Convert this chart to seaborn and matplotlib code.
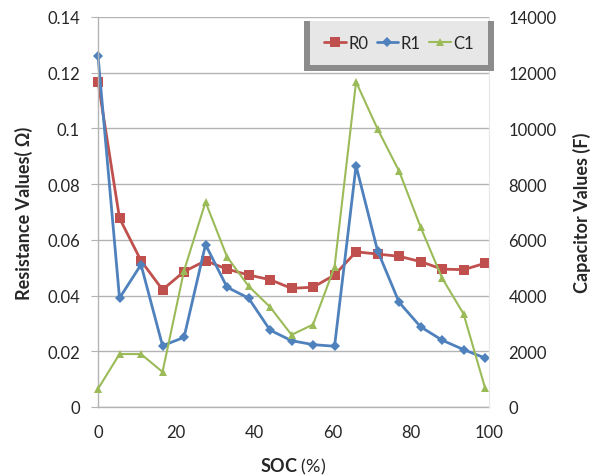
import matplotlib
matplotlib.use("Agg")
import matplotlib.pyplot as plt
from matplotlib.patches import Rectangle
import seaborn as sb
import pandas as pd

soc = [0, 5.5, 11, 16.5, 22, 27.5, 33, 38.5, 44, 49.5, 55, 60.5,
       66, 71.5, 77, 82.5, 88, 93.5, 99]
r0 = [0.1168, 0.0678, 0.0525, 0.0421, 0.0486, 0.0525, 0.0495, 0.0474,
      0.0457, 0.0426, 0.0430, 0.0474, 0.0557, 0.0549, 0.0541, 0.0522,
      0.0495, 0.0493, 0.0516]
r1 = [0.1260, 0.0391, 0.0511, 0.0220, 0.0250, 0.0583, 0.0430, 0.0391,
      0.0276, 0.0238, 0.0224, 0.0218, 0.0866, 0.0561, 0.0376, 0.0288,
      0.0240, 0.0206, 0.0176]
c1 = [650, 1900, 1900, 1260, 4890, 7360, 5390, 4340, 3590, 2590, 2960,
      5030, 11670, 9980, 8470, 6460, 4630, 3340, 680]

x_ticks = [0, 20, 40, 60, 80, 100]
left_ticks = [0, 0.02, 0.04, 0.06, 0.08, 0.1, 0.12, 0.14]
right_ticks = [0, 2000, 4000, 6000, 8000, 10000, 12000, 14000]

RED = "#C0504D"
BLUE = "#4F81BD"
GREEN = "#9BBB59"
GRID = "#B3B3B3"
TXT = "#262626"

sb.set_style("white")
plt.rcParams["font.family"] = ["Lato", "DejaVu Sans"]
plt.rcParams["mathtext.fontset"] = "custom"
plt.rcParams["mathtext.bf"] = "Lato:bold"
plt.rcParams["mathtext.rm"] = "Lato"

df = pd.DataFrame({"SOC": soc, "R0": r0, "R1": r1, "C1": c1})

fig = plt.figure(figsize=(5.94, 4.77), dpi=100)
ax = fig.add_axes([98 / 594, 1 - 408 / 477, 391 / 594, 390 / 477])
ax2 = ax.twinx()

sb.lineplot(data=df, x="SOC", y="R0", ax=ax, color=RED, marker="s",
            markersize=7, linewidth=2, markeredgewidth=0, label="R0",
            legend=False, clip_on=False)
sb.lineplot(data=df, x="SOC", y="R1", ax=ax, color=BLUE, marker="D",
            markersize=5, linewidth=2, markeredgewidth=0, label="R1",
            legend=False, clip_on=False)
sb.lineplot(data=df, x="SOC", y="C1", ax=ax2, color=GREEN, marker="^",
            markersize=6, linewidth=1.5, markeredgewidth=0, label="C1",
            legend=False, clip_on=False)

ax.set_xlim(0, 100)
ax.set_ylim(0, 0.14)
ax2.set_ylim(0, 14000)
ax.set_xticks(x_ticks)
ax.set_yticks(left_ticks)
ax.set_yticklabels(["0", "0.02", "0.04", "0.06", "0.08", "0.1", "0.12",
                    "0.14"])
ax2.set_yticks(right_ticks)

ax.grid(axis="y", color=GRID, linewidth=1)
ax.set_axisbelow(True)
for name, sp in ax.spines.items():
    sp.set_color(GRID)
    sp.set_linewidth(1)
ax.spines["top"].set_visible(False)
ax.spines["right"].set_visible(False)
for name, sp in ax2.spines.items():
    sp.set_visible(False)
ax2.spines["right"].set_visible(True)
ax2.spines["right"].set_color("#E6E6E6")

ax.tick_params(axis="both", direction="out", length=5, color=GRID,
               labelsize=12, labelcolor=TXT, pad=7)
ax.tick_params(axis="y", pad=8)
ax2.tick_params(axis="y", length=0, labelsize=12, labelcolor=TXT, pad=14)

ax.set_xlabel(r"$\bf{SOC}$ (%)", fontsize=13, color=TXT, labelpad=12)
ax.set_ylabel("Resistance Values( \u03a9)", fontsize=13, fontweight="bold",
              color=TXT, labelpad=10)
ax2.set_ylabel("Capacitor Values (F)", fontsize=13, fontweight="bold",
               color=TXT, labelpad=12)

handles = ax.get_lines()[:2] + ax2.get_lines()[:1]
leg = ax2.legend(handles, ["R0", "R1", "C1"], ncol=3, fontsize=12,
                 loc="upper right", bbox_to_anchor=(488 / 594, 1 - 22 / 477),
                 bbox_transform=fig.transFigure, borderaxespad=0,
                 frameon=True, fancybox=False, handlelength=1.3,
                 handletextpad=0.15, columnspacing=0.5, borderpad=0.85)
leg.get_frame().set_edgecolor("white")
leg.get_frame().set_facecolor("white")
leg.get_frame().set_linewidth(0)
for t in leg.get_texts():
    t.set_color(TXT)

fig.canvas.draw()
bb = leg.get_window_extent().transformed(fig.transFigure.inverted())
pw = 6 / 594
ph = 6 / 477
shadow = Rectangle((bb.x0 - pw, bb.y0 - ph), bb.width + 2 * pw,
                   bb.height + ph, transform=fig.transFigure,
                   facecolor="#8C8C8C", edgecolor="none", zorder=4,
                   clip_on=False)
ax2.add_patch(shadow)
leg.set_zorder(6)

fig.savefig("out.png", dpi=100)
